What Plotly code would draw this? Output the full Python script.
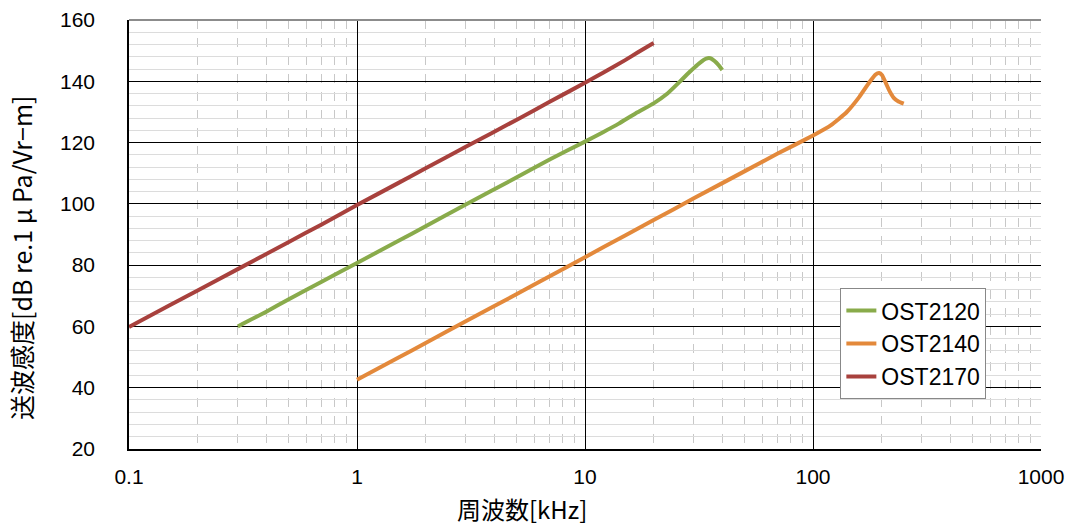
import plotly.graph_objects as go

# OST2120
f2120 = [0.3, 0.4, 0.5, 0.7, 1, 1.5, 2, 3, 5, 7, 10, 12, 14, 17, 20, 23, 26, 28, 30, 32, 34, 35.5, 37, 38.5, 40]
s2120 = [60.0, 64.8, 68.8, 74.6, 80.7, 87.7, 92.7, 99.8, 108.6, 114.5, 120.3, 123.4, 126.1, 129.9, 132.8, 136.0, 139.8, 142.2, 144.3, 146.1, 147.4, 147.5, 146.6, 145.3, 143.7]
# OST2140
f2140 = [1, 1.5, 2, 3, 5, 7, 10, 15, 20, 30, 50, 70, 100, 120, 140, 160, 178, 188, 195, 201, 209, 217, 226, 237, 250]
s2140 = [42.6, 49.6, 54.6, 61.7, 70.5, 76.4, 82.6, 89.7, 94.7, 101.8, 110.6, 116.4, 122.3, 125.7, 129.8, 135.0, 140.0, 142.2, 142.7, 142.0, 139.3, 136.7, 134.6, 133.4, 132.7]
# OST2170
f2170 = [0.1, 0.15, 0.2, 0.3, 0.5, 0.7, 1, 1.5, 2, 3, 5, 7, 10, 12, 15, 17, 20]
s2170 = [59.8, 66.8, 71.7, 78.7, 87.5, 93.3, 99.6, 106.6, 111.6, 118.6, 127.4, 133.3, 139.5, 142.8, 146.9, 149.4, 152.5]

series = [
    ("OST2120", f2120, s2120, "#89AB4B"),
    ("OST2140", f2140, s2140, "#E3893B"),
    ("OST2170", f2170, s2170, "#A8413D"),
]

x_ticks = [0.1, 1, 10, 100, 1000]
x_ticklabels = ["0.1", "1", "10", "100", "1000"]
x_minor = [k * 10.0 ** n for n in range(-1, 3) for k in range(2, 10)]

fig = go.Figure()
for name, fx, sy, col in series:
    fig.add_trace(go.Scatter(x=fx, y=sy, name=name, mode="lines",
                             line=dict(color=col, width=4, shape="spline", smoothing=0.4)))

tickfont = dict(family="Liberation Sans, Arial, sans-serif", size=21, color="#000000")

fig.update_layout(
    width=1076, height=525,
    margin=dict(l=129, r=35, t=20, b=76),
    paper_bgcolor="white", plot_bgcolor="white",
    showlegend=True,
    legend=dict(x=0.78, y=0.375, xanchor="left", yanchor="top",
                bgcolor="white", bordercolor="#888888", borderwidth=1,
                font=dict(family="Liberation Sans, Arial, sans-serif", size=23, color="#000"),
                itemwidth=30, tracegroupgap=0),
    xaxis=dict(type="log", range=[-1, 3], tickvals=x_ticks, ticktext=x_ticklabels,
               showgrid=True, gridcolor="#000000", gridwidth=1,
               minor=dict(showgrid=True, gridcolor="#C8C8C8", griddash="dash", gridwidth=1,
                          tickvals=x_minor, ticks=""),
               showline=True, linecolor="#000000", linewidth=1.5, automargin=False,
               ticks="", tickfont=tickfont, zeroline=False, ticklabelstandoff=8),
    yaxis=dict(range=[20, 160], tick0=20, dtick=20,
               showgrid=True, gridcolor="#000000", gridwidth=1,
               minor=dict(showgrid=True, gridcolor="#DCDCDC", dtick=4, tick0=20, gridwidth=1,
                          ticks=""),
               showline=True, linecolor="#000000", linewidth=1.5, automargin=False,
               ticks="", tickfont=tickfont, zeroline=False, ticklabelstandoff=28),
)

fig.add_shape(type="line", xref="paper", yref="paper", x0=0, x1=1, y0=1, y1=1,
              line=dict(color="#8C8C8C", width=2), layer="above")

fig.add_annotation(text="周波数[kHz]", xref="paper", yref="paper",
                   x=(522 - 129) / 912, y=-(508 - 449) / 429, xanchor="center", yanchor="middle",
                   showarrow=False,
                   font=dict(family="Noto Sans CJK JP", size=24, color="#000"))
fig.add_annotation(text="送波感度[dB re.1 μ Pa/Vr−m]", xref="paper", yref="paper",
                   x=-(129 - 21) / 912, y=(449 - 258) / 429, xanchor="center", yanchor="middle",
                   textangle=-90, showarrow=False,
                   font=dict(family="Noto Sans CJK JP", size=25, color="#000"))

fig.write_html("out.html", config={"displayModeBar": False},
               post_script="document.body.style.margin='0px';")
